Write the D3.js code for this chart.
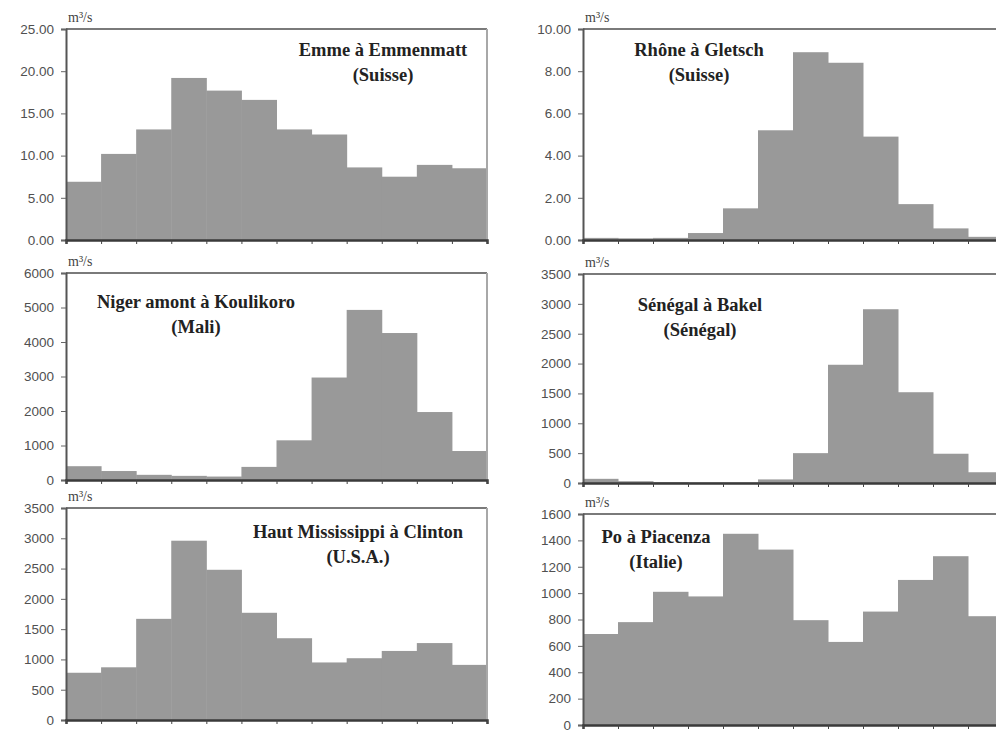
<!DOCTYPE html>
<html>
<head>
<meta charset="utf-8">
<script src="https://cdn.jsdelivr.net/npm/d3@7"></script>
<style>
  body { margin: 0; background: #fff; }
  svg { display: block; }
</style>
</head>
<body>
<svg id="chart" width="996" height="733"></svg>
<script>
// monthly mean discharge, 12 months each
var months = ["J", "F", "M", "A", "M", "J", "J", "A", "S", "O", "N", "D"];

var emmeValues = [6.9, 10.2, 13.1, 19.2, 17.7, 16.6, 13.1, 12.5, 8.6, 7.5, 8.9, 8.5];
var rhoneValues = [0.1, 0.08, 0.1, 0.33, 1.5, 5.2, 8.9, 8.4, 4.9, 1.7, 0.55, 0.15];
var nigerValues = [400, 260, 150, 120, 100, 380, 1150, 2970, 4930, 4260, 1970, 840];
var senegalValues = [70, 30, 15, 10, 10, 60, 500, 1980, 2910, 1520, 490, 180];
var mississippiValues = [780, 870, 1670, 2960, 2480, 1770, 1350, 950, 1020, 1140, 1270, 910];
var poValues = [690, 780, 1010, 975, 1450, 1330, 795, 630, 860, 1100, 1280, 825];

var emmeTicks = [0, 5, 10, 15, 20, 25];
var rhoneTicks = [0, 2, 4, 6, 8, 10];
var nigerTicks = [0, 1000, 2000, 3000, 4000, 5000, 6000];
var senegalTicks = [0, 500, 1000, 1500, 2000, 2500, 3000, 3500];
var mississippiTicks = [0, 500, 1000, 1500, 2000, 2500, 3000, 3500];
var poTicks = [0, 200, 400, 600, 800, 1000, 1200, 1400, 1600];

var unitLabel = "m³/s";

// one entry per panel: where it goes and how it is labelled
var panels = [
    { values: emmeValues, ticks: emmeTicks, fmt: ".2f",
      title: ["Emme à Emmenmatt", "(Suisse)"], left: 66, right: 487, top: 29, bottom: 240, tx: 383, ty: 50 },
    { values: rhoneValues, ticks: rhoneTicks, fmt: ".2f",
      title: ["Rhône à Gletsch", "(Suisse)"], left: 583, right: 1003, top: 29, bottom: 240, tx: 699, ty: 50 },
    { values: nigerValues, ticks: nigerTicks, fmt: "d",
      title: ["Niger amont à Koulikoro", "(Mali)"], left: 66, right: 487, top: 273, bottom: 480, tx: 196, ty: 302 },
    { values: senegalValues, ticks: senegalTicks, fmt: "d",
      title: ["Sénégal à Bakel", "(Sénégal)"], left: 583, right: 1003, top: 274, bottom: 483, tx: 700, ty: 305 },
    { values: mississippiValues, ticks: mississippiTicks, fmt: "d",
      title: ["Haut Mississippi à Clinton", "(U.S.A.)"], left: 66, right: 487, top: 508, bottom: 720, tx: 358, ty: 532 },
    { values: poValues, ticks: poTicks, fmt: "d",
      title: ["Po à Piacenza", "(Italie)"], left: 583, right: 1003, top: 514, bottom: 725, tx: 656, ty: 537 }
];

var svg = d3.select("#chart");

var drawPanel = function(p) {
    var g = svg.append("g");

    var x = d3.scaleBand()
        .domain(d3.range(months.length))
        .range([p.left, p.right])
        .paddingInner(0)
        .paddingOuter(0);

    // tick positions on the month boundaries
    var xEdge = d3.scaleLinear()
        .domain([0, months.length])
        .range([p.left, p.right]);

    var y = d3.scaleLinear()
        .domain([d3.min(p.ticks), d3.max(p.ticks)])
        .range([p.bottom, p.top]);

    // bars
    g.selectAll("rect.bar")
        .data(p.values)
        .enter()
        .append("rect")
        .attr("class", "bar")
        .attr("x", function(d, i) {
            return x(i);
        })
        .attr("y", function(d) {
            return y(d);
        })
        .attr("width", x.bandwidth() + 0.5)
        .attr("height", function(d) {
            return y(0) - y(d);
        })
        .attr("fill", "#999999");

    // frame: top and right
    g.append("line")
        .attr("x1", p.left).attr("x2", p.right)
        .attr("y1", p.top).attr("y2", p.top)
        .attr("stroke", "#7a7a7a")
        .attr("stroke-width", 2);
    g.append("line")
        .attr("x1", p.right).attr("x2", p.right)
        .attr("y1", p.top).attr("y2", p.bottom)
        .attr("stroke", "#a8a8a8")
        .attr("stroke-width", 2);

    // y axis
    var yAxis = d3.axisLeft(y)
        .tickValues(p.ticks)
        .tickSize(5)
        .tickPadding(7)
        .tickFormat(d3.format(p.fmt));
    var ya = g.append("g")
        .attr("transform", "translate(" + p.left + ",0)")
        .call(yAxis);
    ya.select(".domain").attr("stroke", "#555").attr("stroke-width", 2);
    ya.selectAll(".tick line").attr("stroke", "#666");
    ya.selectAll("text")
        .attr("fill", "#505050")
        .style("font-family", "'Liberation Sans', Arial, sans-serif")
        .style("font-size", "13.5px");

    // x axis, no labels
    var xAxis = d3.axisBottom(xEdge)
        .tickValues(d3.range(months.length + 1))
        .tickSize(4)
        .tickFormat("");
    var xa = g.append("g")
        .attr("transform", "translate(0," + p.bottom + ")")
        .call(xAxis);
    xa.select(".domain").attr("stroke", "#3a3a3a").attr("stroke-width", 2.5);
    xa.selectAll(".tick line").attr("stroke", "#444");

    // unit
    g.append("text")
        .attr("x", p.left + 2)
        .attr("y", p.top - 7)
        .attr("fill", "#444")
        .style("font-family", "'Liberation Serif', 'Times New Roman', serif")
        .style("font-size", "14px")
        .text(unitLabel);

    // title
    g.selectAll("text.title")
        .data(p.title)
        .enter()
        .append("text")
        .attr("class", "title")
        .attr("x", p.tx)
        .attr("y", function(d, i) {
            return p.ty + 6 + i * 25;
        })
        .attr("text-anchor", "middle")
        .attr("fill", "#222")
        .style("font-family", "'Liberation Serif', 'Times New Roman', serif")
        .style("font-weight", "bold")
        .style("font-size", "18.5px")
        .text(function(d) {
            return d;
        });
};

panels.forEach(drawPanel);
</script>
</body>
</html>
